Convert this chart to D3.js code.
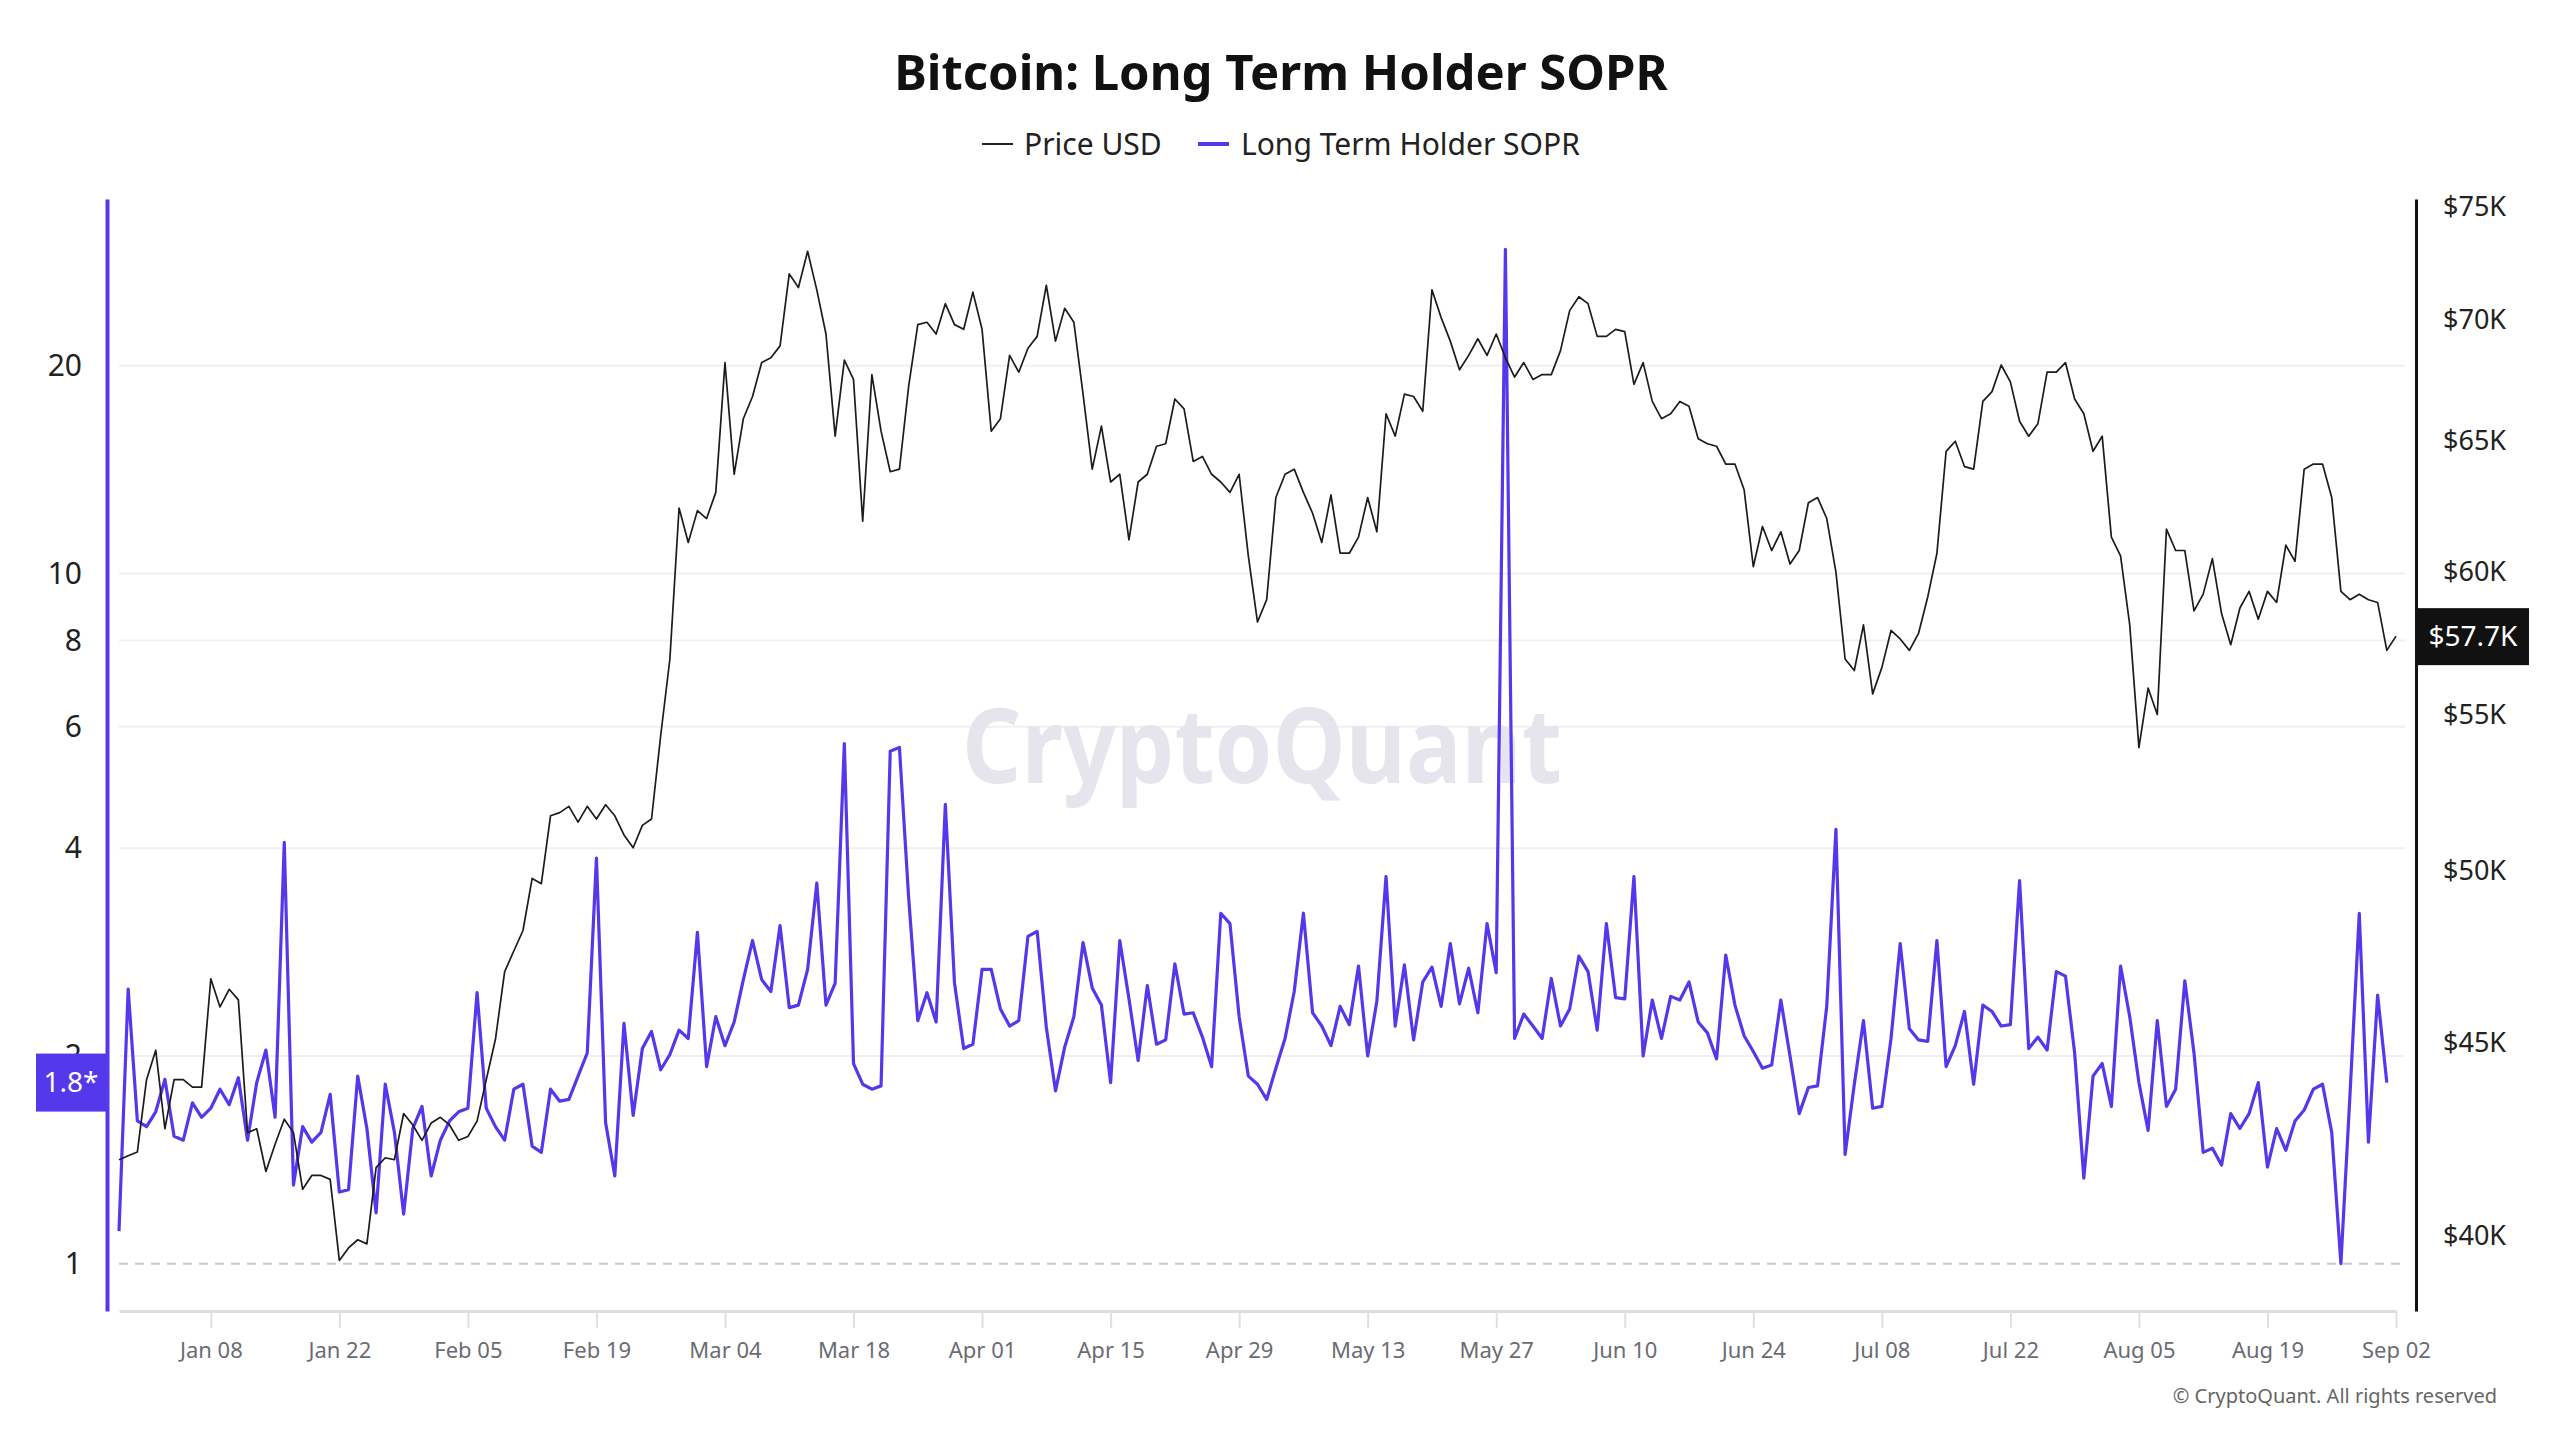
<!DOCTYPE html>
<html>
<head>
<meta charset="utf-8">
<script src="https://cdn.jsdelivr.net/npm/d3@7/dist/d3.min.js"></script>
<style>
body { margin: 0; background: #fff; }
text { font-family: "Noto Sans", sans-serif; }
</style>
</head>
<body>
<div id="chart"></div>
<script>
// daily data, first day 2023-12-29
var firstDay = "2023-12-29"

// BTC price, thousand USD (ends Sep 02)
var priceK = [
 41.9, 42.0, 42.1, 44.0, 44.8, 42.7, 44.0, 44.0, 43.8, 43.8,
 46.8, 46.0, 46.5, 46.2, 42.6, 42.7, 41.6, 42.3, 42.95, 42.6,
 41.15, 41.5, 41.5, 41.4, 39.4, 39.7, 39.9, 39.8, 41.7, 41.95,
 41.9, 43.1, 42.8, 42.4, 42.85, 43.0, 42.8, 42.4, 42.5, 42.9,
 44.0, 45.1, 47.0, 47.6, 48.2, 49.76, 49.6, 51.7, 51.8, 52.0,
 51.5, 52.0, 51.6, 52.05, 51.7, 51.1, 50.7, 51.4, 51.6, 54.3,
 56.9, 62.4, 61.1, 62.3, 62.0, 63.0, 68.2, 63.7, 65.9, 66.8,
 68.2, 68.4, 68.9, 72.0, 71.4, 73.0, 71.3, 69.4, 65.2, 68.3,
 67.5, 61.9, 67.7, 65.4, 63.8, 63.9, 67.2, 69.8, 69.9, 69.4,
 70.7, 69.8, 69.6, 71.2, 69.6, 65.4, 65.9, 68.5, 67.8, 68.8,
 69.3, 71.5, 69.1, 70.5, 69.9, 66.9, 63.9, 65.6, 63.4, 63.7,
 61.2, 63.4, 63.7, 64.8, 64.9, 66.7, 66.3, 64.2, 64.4, 63.7,
 63.4, 63.0, 63.7, 60.6, 58.2, 59.0, 62.8, 63.7, 63.9, 63.0,
 62.2, 61.1, 62.9, 60.7, 60.7, 61.3, 62.8, 61.5, 66.1, 65.2,
 66.9, 66.8, 66.2, 71.3, 70.1, 69.1, 67.9, 68.5, 69.2, 68.5,
 69.4, 68.4, 67.6, 68.2, 67.5, 67.7, 67.7, 68.7, 70.4, 71.0,
 70.7, 69.3, 69.3, 69.6, 69.5, 67.3, 68.2, 66.6, 65.9, 66.1,
 66.6, 66.4, 65.1, 64.9, 64.8, 64.1, 64.1, 63.1, 60.2, 61.7,
 60.8, 61.5, 60.3, 60.8, 62.6, 62.8, 62.0, 60.0, 56.9, 56.5,
 58.1, 55.7, 56.6, 57.9, 57.6, 57.2, 57.8, 59.1, 60.7, 64.6,
 65.0, 64.0, 63.9, 66.6, 67.0, 68.1, 67.4, 65.8, 65.2, 65.7,
 67.8, 67.8, 68.2, 66.7, 66.1, 64.6, 65.2, 61.3, 60.6, 58.1,
 53.9, 55.9, 55.0, 61.6, 60.8, 60.8, 58.6, 59.2, 60.5, 58.5,
 57.4, 58.7, 59.3, 58.3, 59.3, 58.9, 61.0, 60.4, 63.9, 64.1,
 64.1, 62.8, 59.3, 59.0, 59.2, 59.0, 58.9, 57.2, 57.7
]

// long term holder SOPR (ends Sep 01)
var sopr = [
 1.115, 2.50, 1.61, 1.58, 1.66, 1.85, 1.53, 1.51, 1.71, 1.63,
 1.68, 1.79, 1.70, 1.86, 1.51, 1.83, 2.04, 1.63, 4.08, 1.30,
 1.58, 1.50, 1.55, 1.76, 1.27, 1.28, 1.87, 1.57, 1.185, 1.82,
 1.55, 1.18, 1.57, 1.69, 1.34, 1.51, 1.61, 1.66, 1.68, 2.47,
 1.68, 1.58, 1.51, 1.79, 1.82, 1.48, 1.45, 1.79, 1.72, 1.73,
 1.87, 2.02, 3.87, 1.60, 1.34, 2.23, 1.64, 2.05, 2.17, 1.91,
 2.01, 2.18, 2.12, 3.02, 1.93, 2.28, 2.07, 2.24, 2.58, 2.94,
 2.58, 2.48, 3.09, 2.35, 2.37, 2.67, 3.56, 2.37, 2.55, 5.67,
 1.95, 1.82, 1.79, 1.81, 5.53, 5.60, 3.4, 2.25, 2.47, 2.24,
 4.63, 2.55, 2.05, 2.08, 2.67, 2.67, 2.34, 2.21, 2.25, 2.98,
 3.03, 2.20, 1.78, 2.06, 2.28, 2.92, 2.51, 2.37, 1.83, 2.94,
 2.42, 1.97, 2.53, 2.08, 2.11, 2.72, 2.30, 2.31, 2.13, 1.93,
 3.22, 3.11, 2.28, 1.87, 1.82, 1.73, 1.92, 2.12, 2.48, 3.22,
 2.31, 2.21, 2.07, 2.36, 2.22, 2.70, 2.00, 2.40, 3.64, 2.21,
 2.71, 2.11, 2.56, 2.69, 2.36, 2.91, 2.38, 2.68, 2.31, 3.11,
 2.64, 29.5, 2.12, 2.30, 2.21, 2.12, 2.59, 2.21, 2.34, 2.79,
 2.65, 2.18, 3.11, 2.43, 2.42, 3.64, 2.00, 2.41, 2.12, 2.44,
 2.41, 2.56, 2.24, 2.16, 1.98, 2.80, 2.37, 2.14, 2.03, 1.92,
 1.94, 2.41, 2.00, 1.65, 1.80, 1.81, 2.36, 4.26, 1.44, 1.82,
 2.25, 1.68, 1.69, 2.12, 2.91, 2.19, 2.11, 2.10, 2.94, 1.93,
 2.07, 2.32, 1.82, 2.37, 2.32, 2.21, 2.22, 3.59, 2.05, 2.13,
 2.04, 2.65, 2.61, 2.02, 1.33, 1.87, 1.95, 1.69, 2.70, 2.28,
 1.83, 1.56, 2.25, 1.69, 1.79, 2.57, 2.02, 1.45, 1.47, 1.39,
 1.65, 1.57, 1.65, 1.83, 1.38, 1.57, 1.46, 1.61, 1.67, 1.79,
 1.82, 1.55, 1.00, 1.77, 3.22, 1.50, 2.45, 1.83
]

var soprTicks = [1, 2, 4, 6, 8, 10, 20]
var priceTicks = [40, 45, 50, 55, 60, 65, 70, 75]
var dateTicks = ["2024-01-08", "2024-01-22", "2024-02-05", "2024-02-19", "2024-03-04",
  "2024-03-18", "2024-04-01", "2024-04-15", "2024-04-29", "2024-05-13", "2024-05-27",
  "2024-06-10", "2024-06-24", "2024-07-08", "2024-07-22", "2024-08-05", "2024-08-19", "2024-09-02"]

var purple = "#5438eb"
var parse = d3.timeParse("%Y-%m-%d")
var day0 = parse(firstDay)
function dateOf(i) { return d3.timeDay.offset(day0, i) }

var w = 2560, h = 1440
// plot box (note: "top" is taken by window.top)
var pLeft = 119, pRight = 2396, pTop = 199, pBottom = 1311

var svg = d3.select("#chart").append("svg")
    .attr("width", w)
    .attr("height", h)

var x = d3.scaleTime()
    .domain([day0, dateOf(priceK.length - 1)])
    .range([pLeft, pRight])
var ys = d3.scaleLog().domain([0.854, 34.9]).range([pBottom, pTop])
var yp = d3.scaleLog().domain([38.2, 75.37]).range([pBottom, pTop])

// title + legend
svg.append("text")
    .attr("x", 1281).attr("y", 90)
    .attr("text-anchor", "middle")
    .attr("font-size", 49).attr("font-weight", 700)
    .attr("fill", "#111")
    .text("Bitcoin: Long Term Holder SOPR")

var legend = svg.append("g").attr("transform", "translate(982,144)")
legend.append("line").attr("x1", 0).attr("x2", 31)
    .attr("stroke", "#222").attr("stroke-width", 2)
legend.append("text").attr("x", 42).attr("dy", "0.35em")
    .attr("font-size", 30).attr("fill", "#222").text("Price USD")
legend.append("line").attr("x1", 216).attr("x2", 247)
    .attr("stroke", purple).attr("stroke-width", 4)
legend.append("text").attr("x", 259).attr("dy", "0.35em")
    .attr("font-size", 30).attr("fill", "#222").text("Long Term Holder SOPR")

// grid
svg.append("g").selectAll("line")
    .data(soprTicks.filter(function(d) { return d > 1 }))
    .enter().append("line")
    .attr("x1", pLeft).attr("x2", 2405)
    .attr("y1", function(d) { return ys(d) })
    .attr("y2", function(d) { return ys(d) })
    .attr("stroke", "#f0f0f2").attr("stroke-width", 2)

svg.append("line")
    .attr("x1", pLeft).attr("x2", 2405)
    .attr("y1", ys(1)).attr("y2", ys(1))
    .attr("stroke", "#c9c6dc").attr("stroke-width", 2)
    .attr("stroke-dasharray", "9,7")

// watermark
svg.append("text")
    .attr("x", 1262).attr("y", 783)
    .attr("text-anchor", "middle")
    .attr("font-size", 104).attr("font-weight", 700)
    .attr("textLength", 600).attr("lengthAdjust", "spacingAndGlyphs")
    .attr("fill", "#e6e5ee")
    .text("CryptoQuant")

// x axis
var xAxis = svg.append("g")
    .attr("transform", "translate(0," + pBottom + ")")
    .call(d3.axisBottom(x)
        .tickValues(dateTicks.map(parse))
        .tickFormat(d3.timeFormat("%b %d"))
        .tickSize(17).tickSizeOuter(0).tickPadding(14))
xAxis.select(".domain").attr("stroke", "#dcdce0").attr("stroke-width", 3)
xAxis.selectAll(".tick line").attr("stroke", "#e0e0e4").attr("stroke-width", 2)
xAxis.selectAll(".tick text").attr("font-size", 22).attr("fill", "#6b6b73")
    .attr("font-family", "Noto Sans, sans-serif")

// lines
var priceLine = d3.line()
    .x(function(d, i) { return x(dateOf(i)) })
    .y(function(d) { return yp(d) })
var soprLine = d3.line()
    .x(function(d, i) { return x(dateOf(i)) })
    .y(function(d) { return ys(d) })

svg.append("path").datum(sopr)
    .attr("d", soprLine)
    .attr("fill", "none").attr("stroke", purple)
    .attr("stroke-width", 3.2).attr("stroke-linejoin", "round")

svg.append("path").datum(priceK)
    .attr("d", priceLine)
    .attr("fill", "none").attr("stroke", "#1c1c1c")
    .attr("stroke-width", 1.7).attr("stroke-linejoin", "round")

// left axis
var lAxis = svg.append("g")
    .attr("transform", "translate(107,0)")
    .call(d3.axisLeft(ys).tickValues(soprTicks)
        .tickFormat(d3.format("d")).tickSize(0).tickSizeOuter(0).tickPadding(25))
lAxis.select(".domain").attr("stroke", purple).attr("stroke-width", 4)
lAxis.selectAll(".tick text").attr("font-size", 30).attr("fill", "#222")
    .attr("font-family", "Noto Sans, sans-serif")

// right axis
var rAxis = svg.append("g")
    .attr("transform", "translate(2416,0)")
    .call(d3.axisRight(yp).tickValues(priceTicks)
        .tickFormat(function(d) { return "$" + d + "K" })
        .tickSize(0).tickSizeOuter(0).tickPadding(27))
rAxis.select(".domain").attr("stroke", "#111").attr("stroke-width", 3)
rAxis.selectAll(".tick text").attr("font-size", 27).attr("fill", "#222")
    .attr("font-family", "Noto Sans, sans-serif")

// last value badges
var lastS = sopr[sopr.length - 1]
svg.append("rect")
    .attr("x", 36).attr("y", ys(lastS) - 29)
    .attr("width", 70).attr("height", 58)
    .attr("fill", purple)
svg.append("text")
    .attr("x", 71).attr("y", ys(lastS)).attr("dy", "0.35em")
    .attr("text-anchor", "middle")
    .attr("font-size", 28).attr("fill", "#fff")
    .text(d3.format(".1f")(lastS) + "*")

var lastP = priceK[priceK.length - 1]
svg.append("rect")
    .attr("x", 2418).attr("y", yp(lastP) - 28)
    .attr("width", 111).attr("height", 57)
    .attr("fill", "#111")
svg.append("text")
    .attr("x", 2473).attr("y", yp(lastP)).attr("dy", "0.35em")
    .attr("text-anchor", "middle")
    .attr("font-size", 28).attr("fill", "#fff")
    .text("$" + d3.format(".1f")(lastP) + "K")

svg.append("text")
    .attr("x", 2497).attr("y", 1403)
    .attr("text-anchor", "end")
    .attr("font-size", 20).attr("fill", "#666")
    .text("© CryptoQuant. All rights reserved")
</script>
</body>
</html>
